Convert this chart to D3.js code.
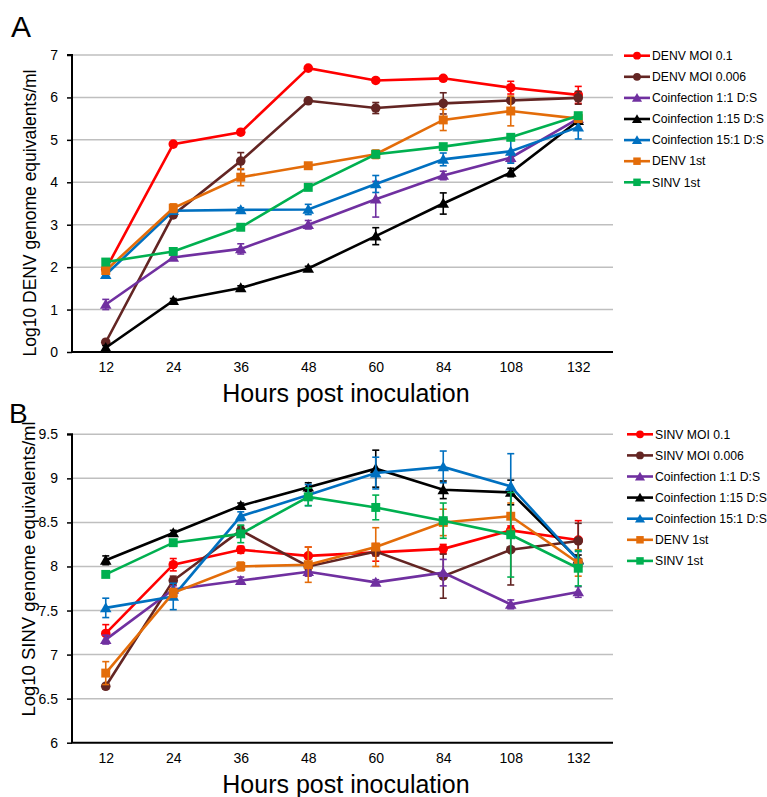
<!DOCTYPE html>
<html><head><meta charset="utf-8">
<script src="https://cdn.jsdelivr.net/npm/d3@7"></script>
<style>body{margin:0;background:#fff}svg{display:block}text{font-family:"Liberation Sans",Arial,sans-serif}</style>
</head><body>
<script>
const hours = ["12","24","36","48","60","84","108","132"];
const seriesNamesA = ["DENV MOI 0.1","DENV MOI 0.006","Coinfection 1:1 D:S","Coinfection 1:15 D:S","Coinfection 15:1 D:S","DENV 1st","SINV 1st"];
const seriesNamesB = ["SINV MOI 0.1","SINV MOI 0.006","Coinfection 1:1 D:S","Coinfection 1:15 D:S","Coinfection 15:1 D:S","DENV 1st","SINV 1st"];
const colors = ["#ff0000","#632523","#7030a0","#000000","#0070c0","#e36c09","#00b050"];
const shapes = ["circle","circle","triangle","triangle","triangle","square","square"];

// Panel A values (Log10 DENV)
const aDenvMoi01   = [1.95, 4.90, 5.18, 6.69, 6.40, 6.45, 6.23, 6.06];
const aDenvMoi0006 = [0.23, 3.23, 4.50, 5.92, 5.75, 5.86, 5.93, 5.99];
const aCo11        = [1.12, 2.23, 2.43, 3.00, 3.60, 4.16, 4.58, 5.50];
const aCo115       = [0.10, 1.21, 1.51, 1.97, 2.73, 3.50, 4.23, 5.45];
const aCo151       = [1.82, 3.33, 3.35, 3.36, 3.96, 4.54, 4.73, 5.30];
const aDenv1st     = [1.92, 3.39, 4.12, 4.39, 4.66, 5.47, 5.68, 5.50];
const aSinv1st     = [2.12, 2.37, 2.94, 3.88, 4.66, 4.84, 5.06, 5.57];
// Panel A error (±)
const aErrDenvMoi01   = [0.05,0.05,0.05,0.04,0.05,0.05,0.15,0.20];
const aErrDenvMoi0006 = [0.05,0.05,0.20,0.04,0.13,0.25,0.05,0.15];
const aErrCo11        = [0.12,0.05,0.12,0.10,0.42,0.10,0.10,0.05];
const aErrCo115       = [0.05,0.05,0.05,0.05,0.20,0.25,0.10,0.05];
const aErrCo151       = [0.08,0.05,0.05,0.12,0.20,0.15,0.28,0.28];
const aErrDenv1st     = [0.05,0.10,0.20,0.05,0.10,0.25,0.35,0.05];
const aErrSinv1st     = [0.05,0.05,0.05,0.05,0.05,0.05,0.05,0.05];

// Panel B values (Log10 SINV)
const bSinvMoi01   = [7.24, 8.02, 8.19, 8.12, 8.16, 8.20, 8.41, 8.30];
const bSinvMoi0006 = [6.64, 7.84, 8.41, 8.00, 8.17, 7.89, 8.19, 8.29];
const bCo11        = [7.17, 7.74, 7.84, 7.94, 7.82, 7.93, 7.57, 7.71];
const bCo115       = [8.07, 8.38, 8.69, 8.90, 9.11, 8.87, 8.84, 8.08];
const bCo151       = [7.53, 7.66, 8.57, 8.81, 9.06, 9.13, 8.91, 8.07];
const bDenv1st     = [6.79, 7.70, 8.00, 8.02, 8.22, 8.50, 8.57, 8.04];
const bSinv1st     = [7.91, 8.27, 8.37, 8.79, 8.67, 8.52, 8.36, 7.98];
const bErrSinvMoi01   = [0.10,0.07,0.04,0.10,0.10,0.05,0.05,0.22];
const bErrSinvMoi0006 = [0.03,0.05,0.05,0.05,0.05,0.25,0.40,0.20];
const bErrCo11        = [0.05,0.04,0.04,0.05,0.03,0.15,0.05,0.06];
const bErrCo115       = [0.05,0.03,0.03,0.05,0.21,0.10,0.14,0.05];
const bErrCo151       = [0.11,0.15,0.05,0.12,0.18,0.18,0.37,0.10];
const bErrDenv1st     = [0.13,0.05,0.05,0.20,0.22,0.15,0.15,0.15];
const bErrSinv1st     = [0.03,0.03,0.10,0.10,0.14,0.20,0.48,0.20];

const aValues = [aDenvMoi01,aDenvMoi0006,aCo11,aCo115,aCo151,aDenv1st,aSinv1st];
const aErrors = [aErrDenvMoi01,aErrDenvMoi0006,aErrCo11,aErrCo115,aErrCo151,aErrDenv1st,aErrSinv1st];
const bValues = [bSinvMoi01,bSinvMoi0006,bCo11,bCo115,bCo151,bDenv1st,bSinv1st];
const bErrors = [bErrSinvMoi01,bErrSinvMoi0006,bErrCo11,bErrCo115,bErrCo151,bErrDenv1st,bErrSinv1st];
const aTicks = [0,1,2,3,4,5,6,7];
const bTicks = [6,6.5,7,7.5,8,8.5,9,9.5];

const W = 767, H = 797;
const svg = d3.select("body").append("svg").attr("width", W).attr("height", H);

const symType = {circle: d3.symbolCircle, triangle: d3.symbolTriangle, square: d3.symbolSquare};
const symSize = {circle: 72, triangle: 58, square: 80};
const legSize = {circle: 48, triangle: 44, square: 56};

function panel(cfg) {
  const x = d3.scalePoint().domain(hours).range([72, 612]).padding(0.5);
  const y = d3.scaleLinear().domain(cfg.domain).range([cfg.bottom, cfg.top]);
  const g = svg.append("g");
  // gridlines
  g.append("g").selectAll("line").data(cfg.ticks.slice(1)).join("line")
    .attr("x1", 72).attr("x2", 613).attr("y1", d => y(d)).attr("y2", d => y(d))
    .attr("stroke", "#bfbfbf").attr("stroke-width", 1.5);
  // y axis
  const ya = g.append("g").attr("transform", "translate(72,0)")
    .call(d3.axisLeft(y).tickValues(cfg.ticks).tickSize(5).tickPadding(9).tickFormat(d3.format("")));
  ya.select(".domain").attr("stroke", "#000").attr("stroke-width", 2).attr("d", `M-5,${cfg.top}H0V${cfg.bottom}`);
  ya.selectAll(".tick line").attr("stroke", "#000").attr("stroke-width", 1.5);
  ya.selectAll("text").attr("font-size", 14).attr("fill", "#000").style("font-family", '"Liberation Sans",Arial,sans-serif');
  // x axis
  const xa = g.append("g").attr("transform", `translate(0,${cfg.bottom})`)
    .call(d3.axisBottom(x).tickSize(0).tickPadding(10));
  xa.select(".domain").attr("stroke", "#000").attr("stroke-width", 2).attr("d", "M71,0H613");
  xa.selectAll("text").attr("font-size", 14).attr("fill", "#000").style("font-family", '"Liberation Sans",Arial,sans-serif');
  // titles
  g.append("text").attr("x", 346).attr("y", cfg.bottom + cfg.titleOff).attr("text-anchor", "middle")
    .attr("font-size", 25).text("Hours post inoculation");
  g.append("text").attr("transform", `translate(${cfg.ylabX},${cfg.ylabY}) rotate(-90)`)
    .attr("text-anchor", "middle").attr("font-size", cfg.ylabSize).text(cfg.ylab);
  g.append("text").attr("x", cfg.letterX).attr("y", cfg.letterY).attr("font-size", cfg.letterSize).text(cfg.letter);

  // series
  cfg.values.forEach((vals, i) => {
    const sg = g.append("g");
    const errs = cfg.errors[i];
    const pts = hours.map((h, j) => ({h, v: vals[j], e: errs[j]}));
    sg.append("path").datum(pts)
      .attr("d", d3.line().x(d => x(d.h)).y(d => y(d.v)))
      .attr("fill", "none").attr("stroke", colors[i]).attr("stroke-width", 2.6);
    const eb = sg.append("g").attr("stroke", colors[i]).attr("stroke-width", 1.6);
    pts.forEach(d => {
      const x0 = x(d.h), y1 = y(d.v - d.e), y2 = y(d.v + d.e);
      eb.append("line").attr("x1", x0).attr("x2", x0).attr("y1", y1).attr("y2", y2);
      eb.append("line").attr("x1", x0 - 3.5).attr("x2", x0 + 3.5).attr("y1", y1).attr("y2", y1);
      eb.append("line").attr("x1", x0 - 3.5).attr("x2", x0 + 3.5).attr("y1", y2).attr("y2", y2);
    });
    sg.selectAll("path.m").data(pts).join("path").attr("class", "m")
      .attr("transform", d => `translate(${x(d.h)},${y(d.v) + (shapes[i] === "triangle" ? 1 : 0)})`)
      .attr("d", d3.symbol(symType[shapes[i]], symSize[shapes[i]]))
      .attr("fill", colors[i]);
  });

  // legend
  const lg = g.append("g");
  cfg.names.forEach((n, i) => {
    const yy = cfg.legY + i * 21.1;
    lg.append("line").attr("x1", cfg.legX).attr("x2", cfg.legX + 26).attr("y1", yy).attr("y2", yy)
      .attr("stroke", colors[i]).attr("stroke-width", 2.6);
    lg.append("path").attr("transform", `translate(${cfg.legX + 13},${yy + (shapes[i] === "triangle" ? 1 : 0)})`)
      .attr("d", d3.symbol(symType[shapes[i]], legSize[shapes[i]])).attr("fill", colors[i]);
    lg.append("text").attr("x", cfg.legX + 28).attr("y", yy).attr("dy", "0.35em")
      .attr("font-size", 12.2).text(n);
  });
}

panel({domain: [0, 7], top: 55, bottom: 352, ticks: aTicks, values: aValues, errors: aErrors,
  names: seriesNamesA, ylab: "Log10 DENV genome equivalents/ml", ylabX: 36, ylabY: 213, ylabSize: 17.5,
  titleOff: 50, letter: "A", letterX: 11, letterY: 37, letterSize: 30, legX: 624, legY: 55.7});
panel({domain: [6, 9.5], top: 434.3, bottom: 742.7, ticks: bTicks, values: bValues, errors: bErrors,
  names: seriesNamesB, ylab: "Log10 SINV genome equivalents/ml", ylabX: 35, ylabY: 569, ylabSize: 18.5,
  titleOff: 50, letter: "B", letterX: 9, letterY: 423, letterSize: 28, legX: 627, legY: 434.3});
</script>
</body></html>
